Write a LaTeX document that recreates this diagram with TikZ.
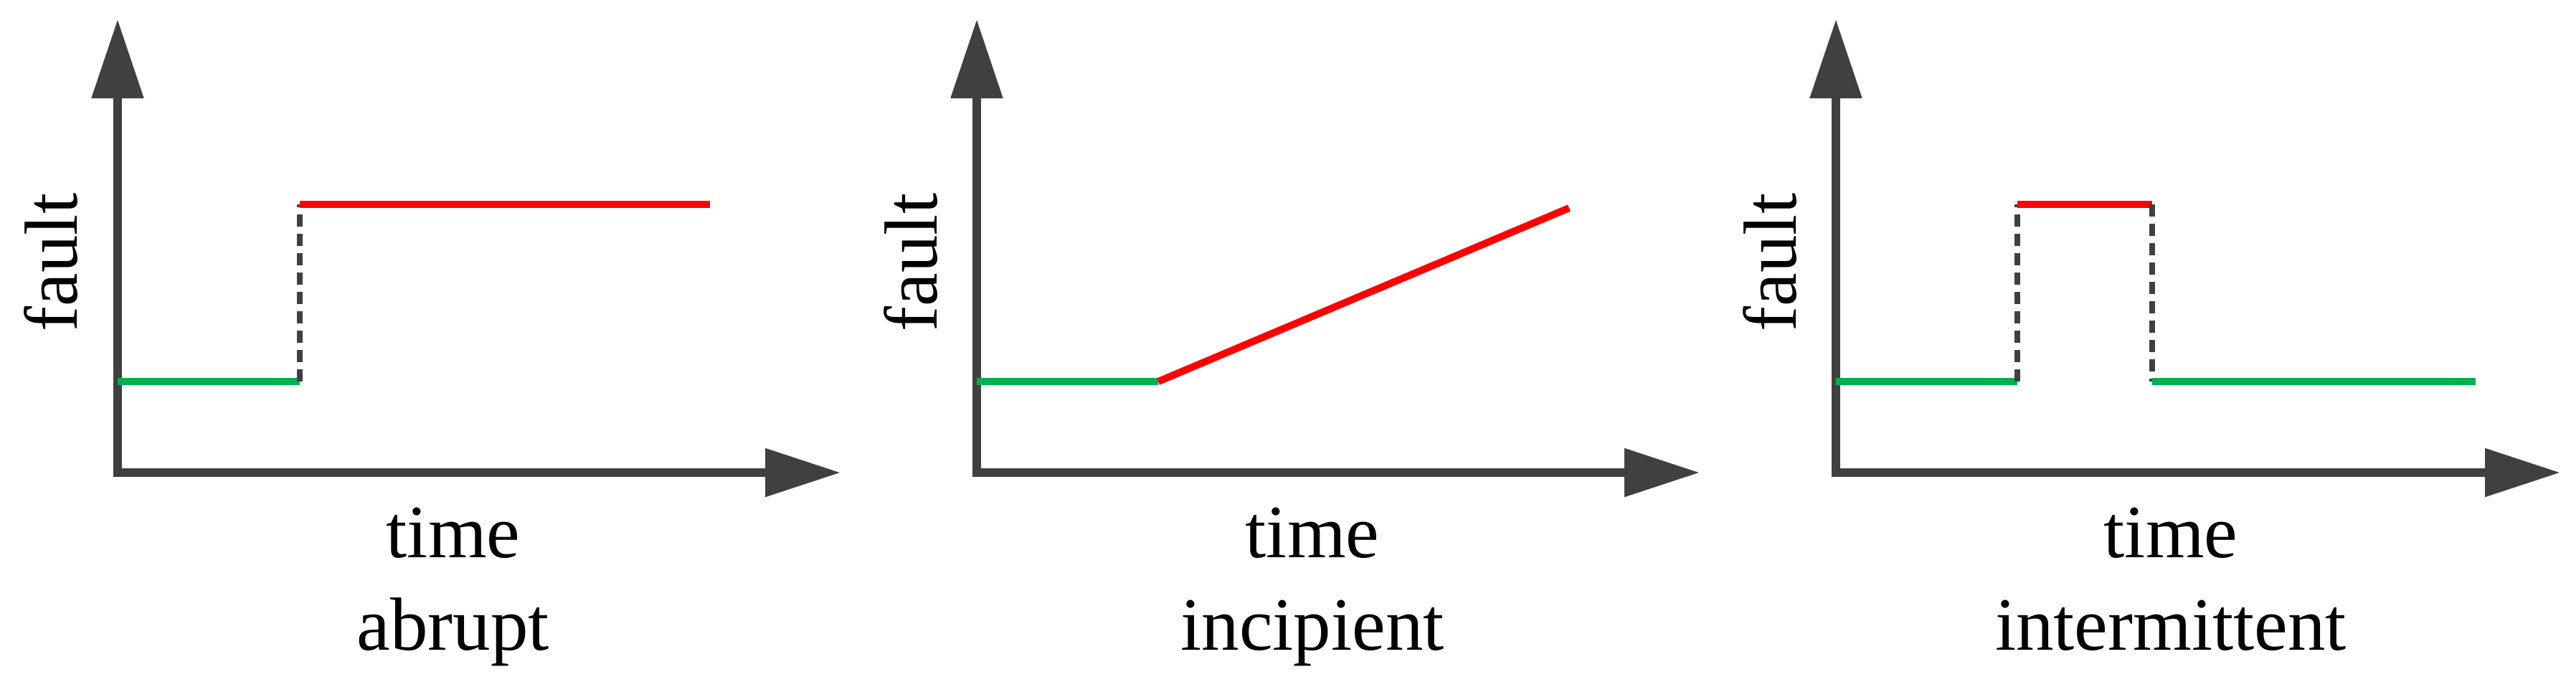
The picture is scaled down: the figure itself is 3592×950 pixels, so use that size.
\documentclass[tikz,border=0pt]{standalone}
\usepackage{fontspec}
\setmainfont{Liberation Serif}
\usetikzlibrary{arrows.meta}
\definecolor{axisgray}{HTML}{404040}
\definecolor{okgreen}{HTML}{00B050}
\definecolor{faultred}{HTML}{FF0000}
\begin{document}
\begin{tikzpicture}[x=0.2pt,y=-0.2pt,
  axisline/.style={draw=axisgray, line width=2.4pt, line join=miter,
    {Triangle[length=22pt,width=14pt]}-{Triangle[length=21pt,width=13pt]}},
  normal/.style={draw=okgreen, line width=2pt},
  faulty/.style={draw=faultred, line width=2pt},
  jump/.style={draw=axisgray, line width=1.6pt, dash pattern=on 3.4pt off 2pt},
  lab/.style={font=\fontsize{21pt}{25pt}\selectfont, inner sep=0pt, anchor=base},
  ylab/.style={lab, rotate=90}
]
\useasboundingbox (0,0) rectangle (3592,950);

% ---------- panel 1: abrupt ----------
\begin{scope}
\coordinate (ty1) at (164,27);
\coordinate (o1) at (164,659);
\coordinate (tx1) at (1172,659);
\draw[axisline] (ty1) -- (o1) -- (tx1);
\coordinate (g1a) at (164,532);
\coordinate (g1b) at (418,532);
\coordinate (r1a) at (418,285);
\coordinate (r1b) at (990,285);
\draw[normal] (g1a) -- (g1b);
\draw[jump] (g1b) -- (r1a);
\draw[faulty] (r1a) -- (r1b);
\node[ylab] (f1) at (108,366) {fault};
\node[lab] (t1) at (632,777) {time};
\node[lab] (n1) at (632,906) {abrupt};
\end{scope}

% ---------- panel 2: incipient ----------
\begin{scope}[shift={(1198,0)}]
\coordinate (ty2) at (164,27);
\coordinate (o2) at (164,659);
\coordinate (tx2) at (1172,659);
\draw[axisline] (ty2) -- (o2) -- (tx2);
\coordinate (g2a) at (164,532);
\coordinate (g2b) at (417,532);
\coordinate (r2b) at (990,290);
\draw[normal] (g2a) -- (g2b);
\draw[faulty] (g2b) -- (r2b);
\node[ylab] (f2) at (108,366) {fault};
\node[lab] (t2) at (632,777) {time};
\node[lab] (n2) at (632,906) {incipient};
\end{scope}

% ---------- panel 3: intermittent ----------
\begin{scope}[shift={(2396,0)}]
\coordinate (ty3) at (164,27);
\coordinate (o3) at (164,659);
\coordinate (tx3) at (1174,659);
\draw[axisline] (ty3) -- (o3) -- (tx3);
\coordinate (g3a) at (164,532);
\coordinate (g3b) at (417,532);
\coordinate (r3a) at (417,285);
\coordinate (r3b) at (605,285);
\coordinate (g3c) at (605,532);
\coordinate (g3d) at (1056,532);
\draw[normal] (g3a) -- (g3b);
\draw[jump] (g3b) -- (r3a);
\draw[faulty] (r3a) -- (r3b);
\draw[jump] (r3b) -- (g3c);
\draw[normal] (g3c) -- (g3d);
\node[ylab] (f3) at (108,366) {fault};
\node[lab] (t3) at (631,777) {time};
\node[lab] (n3) at (631,906) {intermittent};
\end{scope}
\end{tikzpicture}
\end{document}
